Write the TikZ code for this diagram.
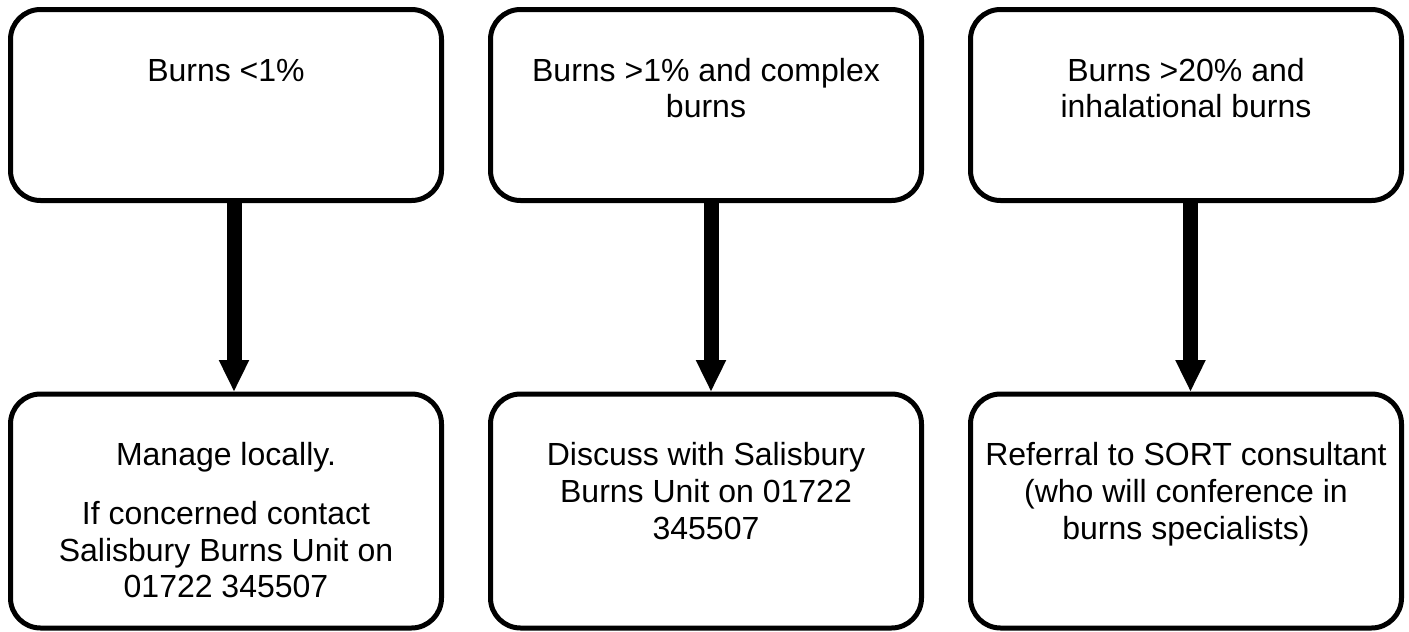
\documentclass[tikz,border=0pt]{standalone}
\usepackage{fontspec}
\setmainfont{Liberation Sans}
\usetikzlibrary{arrows.meta}
\newcommand\boxtxt[2]{\parbox[c][#1][t]{431pt}{\centering\rule{0pt}{71.5pt}#2}}
\tikzset{
  flowbox/.style={draw=black, line width=5pt, rounded corners=30pt, inner sep=0pt, outer sep=0pt,
    minimum width=431pt, font=\fontsize{32}{36.8}\selectfont},
  bigarrow/.style={draw=black, line width=15pt, -{Triangle[width=28pt,length=32pt]}}
}
\begin{document}
\begin{tikzpicture}[x=1pt,y=-1pt]
\useasboundingbox (0,0) rectangle (1409,632);
\node[flowbox] (t1) at (226,105) {\boxtxt{191pt}{Burns <1\%}};
\node[flowbox] (t2) at (706,105) {\boxtxt{191pt}{Burns >1\% and complex\\burns}};
\node[flowbox] (t3) at (1186,105) {\boxtxt{191pt}{Burns >20\% and\\inhalational burns}};
\node[flowbox] (b1) at (226,511) {\boxtxt{234pt}{Manage locally.\\[22pt]If concerned contact\\Salisbury Burns Unit on\\01722 345507}};
\node[flowbox] (b2) at (706,511) {\boxtxt{234pt}{Discuss with Salisbury\\Burns Unit on 01722\\345507}};
\node[flowbox] (b3) at (1186,511) {\boxtxt{234pt}{Referral to SORT consultant\\(who will conference in\\burns specialists)}};
\draw[bigarrow] ([xshift=8pt]t1.south) -- ([xshift=8pt,yshift=2pt]b1.north);
\draw[bigarrow] ([xshift=5pt]t2.south) -- ([xshift=5pt,yshift=2pt]b2.north);
\draw[bigarrow] ([xshift=4.5pt]t3.south) -- ([xshift=4.5pt,yshift=2pt]b3.north);
\end{tikzpicture}
\end{document}
